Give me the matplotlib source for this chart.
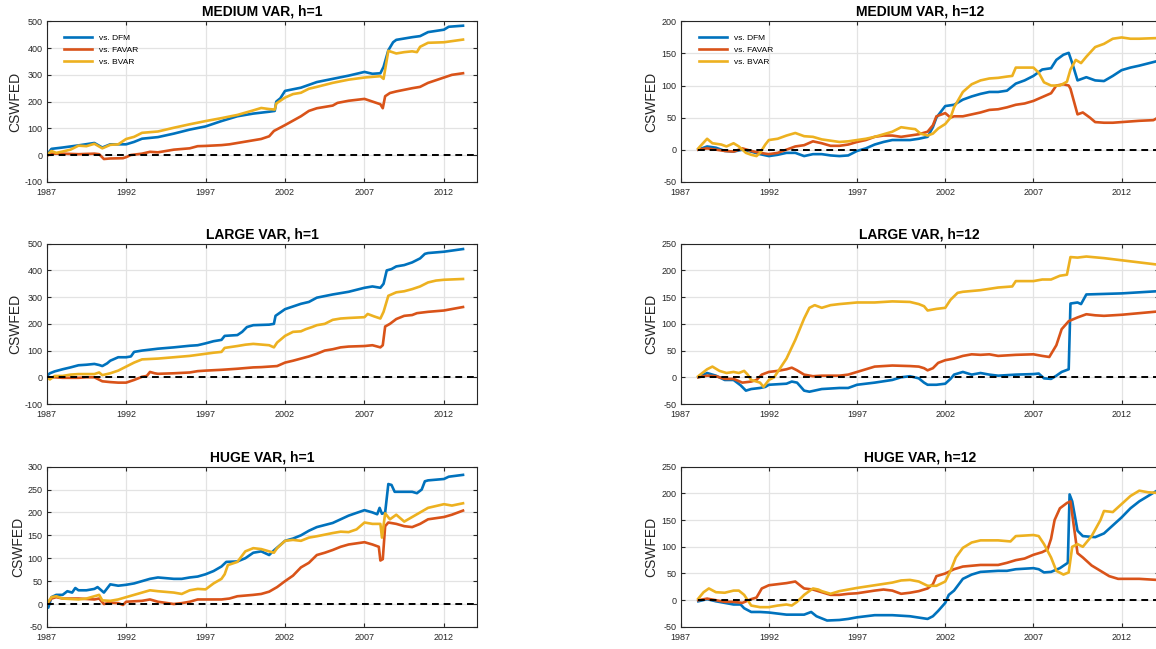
import matplotlib.pyplot as plt
import numpy as np

plt.rcParams["font.family"] = ["Liberation Sans", "DejaVu Sans"]
plt.rcParams["axes.unicode_minus"] = False

COLORS = ["#0072BD", "#D95319", "#EDB120"]
SERIES_NAMES = ["vs. DFM", "vs. FAVAR", "vs. BVAR"]
YEAR_TICKS = [1987, 1992, 1997, 2002, 2007, 2012]

# cumulative sum of squared forecast error differences, (year, value) pairs
MEDIUM_H1_DFM = [
    (1987.0, 0), (1987.3, 23), (1988.0, 28), (1989.0, 36), (1990.0, 45), (1990.5, 28),
    (1991.0, 40), (1992.0, 40), (1992.5, 49), (1993.0, 61), (1994.0, 67), (1995.0, 80),
    (1996.0, 95), (1997.0, 107), (1998.0, 127), (1999.0, 145), (2000.0, 155), (2001.0, 162),
    (2001.35, 165), (2001.45, 200), (2001.7, 212), (2002.0, 240), (2003.0, 252), (2004.0, 273),
    (2005.0, 285), (2006.0, 297), (2007.0, 311), (2007.5, 304), (2008.0, 306), (2008.2, 330),
    (2008.5, 392), (2008.8, 422), (2009.0, 431), (2010.0, 441), (2010.5, 445), (2011.0, 460),
    (2012.0, 469), (2012.3, 480), (2013.2, 484),
]
MEDIUM_H1_FAVAR = [
    (1987.0, -3), (1987.3, 5), (1988.0, 5), (1989.0, 3), (1990.0, 5), (1990.3, 3),
    (1990.6, -15), (1991.0, -13), (1991.8, -12), (1992.0, -8), (1992.3, 0), (1993.0, 5),
    (1993.5, 12), (1994.0, 10), (1994.5, 15), (1995.0, 20), (1996.0, 25), (1996.5, 33),
    (1997.0, 34), (1998.0, 37), (1998.5, 40), (1999.0, 45), (2000.0, 55), (2000.5, 60),
    (2001.0, 70), (2001.3, 90), (2002.0, 112), (2003.0, 145), (2003.5, 165), (2004.0, 175),
    (2005.0, 185), (2005.3, 195), (2006.0, 203), (2007.0, 210), (2007.5, 200), (2008.0, 190),
    (2008.15, 175), (2008.3, 220), (2008.6, 232), (2009.0, 238), (2010.0, 250), (2010.5, 255),
    (2011.0, 270), (2011.5, 280), (2012.0, 290), (2012.5, 300), (2013.2, 306),
]
MEDIUM_H1_BVAR = [
    (1987.0, 0), (1987.3, 15), (1987.6, 8), (1988.0, 13), (1988.5, 20), (1989.0, 35),
    (1989.5, 33), (1990.0, 42), (1990.5, 25), (1991.0, 38), (1991.5, 40), (1992.0, 60),
    (1992.5, 68), (1993.0, 83), (1994.0, 88), (1995.0, 102), (1996.0, 115), (1997.0, 127),
    (1998.0, 138), (1999.0, 150), (2000.0, 167), (2000.5, 176), (2001.0, 172), (2001.35, 170),
    (2001.45, 193), (2002.0, 215), (2002.5, 228), (2003.0, 233), (2003.5, 248), (2004.0, 255),
    (2005.0, 270), (2006.0, 282), (2007.0, 290), (2008.0, 295), (2008.2, 285), (2008.5, 390),
    (2009.0, 380), (2009.5, 385), (2010.0, 388), (2010.3, 385), (2010.5, 405), (2011.0, 420),
    (2012.0, 422), (2013.2, 432),
]

MEDIUM_H12_DFM = [
    (1988.0, 0), (1988.5, 5), (1989.0, 3), (1989.5, -2), (1990.0, -3), (1990.5, 0),
    (1991.0, -3), (1991.5, -7), (1992.0, -10), (1992.5, -8), (1993.0, -5), (1993.5, -5),
    (1994.0, -10), (1994.5, -7), (1995.0, -7), (1995.5, -9), (1996.0, -10), (1996.5, -9),
    (1997.0, -2), (1997.5, 2), (1998.0, 8), (1998.5, 12), (1999.0, 15), (2000.0, 15),
    (2000.5, 17), (2001.0, 20), (2001.3, 35), (2001.5, 50), (2002.0, 68), (2002.5, 70),
    (2003.0, 78), (2003.5, 83), (2004.0, 87), (2004.5, 90), (2005.0, 90), (2005.5, 92),
    (2006.0, 103), (2006.5, 108), (2007.0, 115), (2007.5, 125), (2008.0, 127), (2008.3, 140),
    (2008.7, 148), (2009.0, 151), (2009.2, 135), (2009.5, 108), (2010.0, 113), (2010.5, 108),
    (2011.0, 107), (2011.5, 115), (2012.0, 124), (2012.5, 128), (2013.0, 131), (2014.0, 138),
]
MEDIUM_H12_FAVAR = [
    (1988.0, 0), (1988.5, 2), (1989.0, 0), (1989.5, -2), (1990.0, -3), (1990.5, 2),
    (1991.0, -2), (1991.5, -5), (1992.0, -7), (1992.5, -5), (1993.0, 0), (1993.5, 5),
    (1994.0, 7), (1994.5, 13), (1995.0, 10), (1995.5, 6), (1996.0, 6), (1996.5, 8),
    (1997.0, 12), (1997.5, 15), (1998.0, 20), (1998.5, 22), (1999.0, 22), (1999.5, 20),
    (2000.0, 22), (2000.5, 24), (2001.0, 28), (2001.3, 38), (2001.5, 52), (2002.0, 57),
    (2002.3, 50), (2002.5, 52), (2003.0, 52), (2003.5, 55), (2004.0, 58), (2004.5, 62),
    (2005.0, 63), (2005.5, 66), (2006.0, 70), (2006.5, 72), (2007.0, 76), (2007.5, 82),
    (2008.0, 88), (2008.3, 100), (2008.7, 102), (2009.0, 100), (2009.1, 95), (2009.5, 55),
    (2009.8, 58), (2010.2, 50), (2010.5, 43), (2011.0, 42), (2011.5, 42), (2012.0, 43),
    (2013.0, 45), (2013.8, 46), (2014.0, 49),
]
MEDIUM_H12_BVAR = [
    (1988.0, 2), (1988.5, 17), (1988.8, 10), (1989.3, 8), (1989.6, 5), (1990.0, 10),
    (1990.3, 5), (1990.7, -5), (1991.0, -8), (1991.3, -10), (1991.5, -5), (1991.8, 8),
    (1992.0, 15), (1992.5, 17), (1993.0, 22), (1993.5, 26), (1994.0, 21), (1994.5, 20),
    (1995.0, 16), (1995.5, 14), (1996.0, 12), (1996.5, 13), (1997.0, 15), (1997.5, 17),
    (1998.0, 20), (1998.5, 24), (1999.0, 28), (1999.5, 35), (2000.0, 33), (2000.3, 32),
    (2000.6, 25), (2001.0, 22), (2001.3, 25), (2001.6, 33), (2002.0, 40), (2002.3, 50),
    (2002.5, 66), (2003.0, 90), (2003.5, 102), (2004.0, 108), (2004.5, 111), (2005.0, 112),
    (2005.5, 114), (2005.8, 115), (2006.0, 128), (2007.0, 128), (2007.3, 120), (2007.6, 105),
    (2008.0, 100), (2008.5, 100), (2008.9, 106), (2009.1, 125), (2009.4, 140), (2009.7, 135),
    (2010.0, 145), (2010.5, 160), (2011.0, 165), (2011.5, 173), (2012.0, 175), (2012.5, 173),
    (2013.0, 173), (2014.0, 174),
]

LARGE_H1_DFM = [
    (1987.0, 5), (1987.2, 15), (1987.5, 22), (1988.0, 30), (1988.5, 37), (1989.0, 45),
    (1989.5, 47), (1990.0, 50), (1990.3, 46), (1990.5, 42), (1990.8, 52), (1991.0, 62),
    (1991.5, 75), (1992.0, 75), (1992.3, 78), (1992.5, 95), (1993.0, 100), (1994.0, 107),
    (1995.0, 112), (1996.0, 118), (1996.5, 120), (1997.0, 127), (1997.5, 135), (1998.0, 140),
    (1998.2, 155), (1999.0, 158), (1999.3, 170), (1999.6, 188), (2000.0, 195), (2001.0, 197),
    (2001.3, 200), (2001.4, 230), (2002.0, 255), (2002.5, 265), (2003.0, 275), (2003.5, 282),
    (2004.0, 298), (2005.0, 310), (2006.0, 320), (2007.0, 335), (2007.5, 340), (2008.0, 335),
    (2008.2, 350), (2008.4, 400), (2008.7, 405), (2009.0, 415), (2009.5, 420), (2010.0, 430),
    (2010.5, 445), (2010.8, 462), (2011.0, 465), (2012.0, 470), (2013.2, 480),
]
LARGE_H1_FAVAR = [
    (1987.0, 0), (1987.5, 0), (1988.0, -2), (1989.0, -2), (1989.5, 0), (1990.0, 0),
    (1990.5, -15), (1991.0, -18), (1991.5, -20), (1992.0, -20), (1992.5, -10), (1992.8, -3),
    (1993.0, 2), (1993.3, 5), (1993.5, 20), (1993.8, 15), (1994.0, 13), (1995.0, 15),
    (1996.0, 18), (1996.5, 23), (1997.0, 25), (1998.0, 28), (1998.5, 30), (1999.0, 32),
    (2000.0, 37), (2000.5, 38), (2001.0, 40), (2001.5, 42), (2002.0, 55), (2002.5, 62),
    (2003.0, 70), (2003.5, 78), (2004.0, 88), (2004.5, 100), (2005.0, 105), (2005.5, 112),
    (2006.0, 115), (2007.0, 117), (2007.5, 120), (2008.0, 112), (2008.15, 120), (2008.3, 190),
    (2008.6, 200), (2009.0, 218), (2009.5, 230), (2010.0, 233), (2010.3, 240), (2011.0, 245),
    (2012.0, 250), (2013.2, 263),
]
LARGE_H1_BVAR = [
    (1987.0, 0), (1987.2, -8), (1987.5, 5), (1988.0, 5), (1988.5, 10), (1989.0, 12),
    (1990.0, 12), (1990.3, 18), (1990.5, 8), (1991.0, 15), (1991.5, 25), (1992.0, 40),
    (1992.5, 55), (1993.0, 67), (1994.0, 70), (1995.0, 75), (1996.0, 80), (1997.0, 88),
    (1997.5, 92), (1998.0, 95), (1998.2, 110), (1999.0, 117), (1999.5, 122), (2000.0, 125),
    (2001.0, 120), (2001.3, 112), (2001.5, 130), (2002.0, 155), (2002.5, 170), (2003.0, 172),
    (2003.3, 180), (2003.7, 188), (2004.0, 195), (2004.5, 200), (2005.0, 215), (2005.5, 220),
    (2006.0, 222), (2007.0, 225), (2007.2, 237), (2007.6, 228), (2008.0, 220), (2008.2, 245),
    (2008.5, 305), (2009.0, 318), (2009.5, 322), (2010.0, 330), (2010.5, 340), (2011.0, 355),
    (2011.5, 362), (2012.0, 365), (2013.2, 368),
]

LARGE_H12_DFM = [
    (1988.0, 0), (1988.5, 8), (1989.0, 3), (1989.5, -5), (1990.0, -5), (1990.4, -15),
    (1990.7, -25), (1991.0, -22), (1991.5, -20), (1991.8, -18), (1992.0, -14), (1992.5, -13),
    (1993.0, -12), (1993.3, -8), (1993.6, -10), (1994.0, -25), (1994.3, -27), (1995.0, -22),
    (1996.0, -20), (1996.5, -20), (1997.0, -14), (1998.0, -10), (1999.0, -5), (1999.5, 0),
    (2000.0, 2), (2000.5, -2), (2000.8, -10), (2001.0, -14), (2001.5, -14), (2002.0, -12),
    (2002.3, -3), (2002.5, 5), (2003.0, 10), (2003.5, 5), (2004.0, 8), (2004.5, 5),
    (2005.0, 3), (2006.0, 5), (2007.0, 6), (2007.3, 7), (2007.6, -2), (2008.0, -3),
    (2008.3, 3), (2008.6, 10), (2009.0, 15), (2009.1, 138), (2009.5, 140), (2009.7, 137),
    (2010.0, 155), (2011.0, 156), (2012.0, 157), (2013.0, 159), (2014.0, 161),
]
LARGE_H12_FAVAR = [
    (1988.0, 0), (1988.5, 3), (1989.0, 2), (1989.5, -3), (1990.0, -3), (1990.5, -10),
    (1991.0, -8), (1991.3, -5), (1991.6, 5), (1992.0, 10), (1992.5, 12), (1993.0, 15),
    (1993.3, 18), (1993.6, 13), (1994.0, 5), (1994.5, 2), (1995.0, 3), (1996.0, 3),
    (1996.5, 5), (1997.0, 10), (1997.5, 15), (1998.0, 20), (1999.0, 22), (2000.0, 21),
    (2000.5, 20), (2000.8, 17), (2001.0, 13), (2001.3, 17), (2001.6, 27), (2002.0, 32),
    (2002.5, 35), (2003.0, 40), (2003.5, 43), (2004.0, 42), (2004.5, 43), (2005.0, 40),
    (2006.0, 42), (2007.0, 43), (2007.5, 40), (2007.9, 38), (2008.3, 60), (2008.6, 90),
    (2009.0, 105), (2009.5, 112), (2010.0, 118), (2010.5, 116), (2011.0, 115), (2012.0, 117),
    (2013.0, 120), (2014.0, 123),
]
LARGE_H12_BVAR = [
    (1988.0, 2), (1988.5, 15), (1988.8, 20), (1989.2, 12), (1989.6, 8), (1990.0, 10),
    (1990.3, 8), (1990.6, 12), (1990.8, 5), (1991.0, -5), (1991.5, -10), (1991.7, -18),
    (1992.0, -5), (1992.3, 0), (1992.6, 15), (1993.0, 35), (1993.5, 70), (1994.0, 110),
    (1994.3, 130), (1994.6, 135), (1995.0, 130), (1995.5, 135), (1996.0, 137), (1997.0, 140),
    (1998.0, 140), (1999.0, 142), (2000.0, 141), (2000.5, 137), (2000.8, 133), (2001.0, 125),
    (2001.5, 128), (2002.0, 130), (2002.3, 145), (2002.7, 158), (2003.0, 160), (2004.0, 163),
    (2005.0, 168), (2005.8, 170), (2006.0, 180), (2007.0, 180), (2007.5, 183), (2008.0, 183),
    (2008.5, 190), (2008.9, 192), (2009.1, 225), (2009.5, 224), (2010.0, 226), (2011.0, 223),
    (2012.0, 219), (2013.0, 215), (2014.0, 211),
]

HUGE_H1_DFM = [
    (1987.0, 0), (1987.1, -8), (1987.3, 15), (1987.6, 20), (1988.0, 20), (1988.3, 28),
    (1988.6, 25), (1988.8, 35), (1989.0, 30), (1989.5, 30), (1990.0, 33), (1990.2, 37),
    (1990.6, 25), (1991.0, 43), (1991.5, 40), (1992.0, 42), (1992.5, 45), (1993.0, 50),
    (1993.5, 55), (1994.0, 58), (1995.0, 55), (1995.5, 55), (1996.0, 58), (1996.5, 60),
    (1997.0, 65), (1997.5, 72), (1998.0, 82), (1998.3, 92), (1999.0, 93), (1999.5, 100),
    (2000.0, 112), (2000.5, 115), (2001.0, 107), (2001.3, 117), (2002.0, 138), (2002.5, 143),
    (2003.0, 150), (2003.5, 160), (2004.0, 168), (2005.0, 177), (2005.5, 185), (2006.0, 193),
    (2007.0, 205), (2007.5, 200), (2007.8, 196), (2007.95, 210), (2008.1, 197), (2008.3, 200),
    (2008.5, 262), (2008.7, 260), (2008.9, 245), (2009.5, 245), (2010.0, 245), (2010.3, 242),
    (2010.6, 250), (2010.8, 268), (2011.0, 270), (2012.0, 273), (2012.3, 278), (2013.2, 282),
]
HUGE_H1_FAVAR = [
    (1987.0, 0), (1987.3, 12), (1987.6, 15), (1988.0, 12), (1989.0, 12), (1990.0, 10),
    (1990.3, 12), (1990.6, 0), (1991.0, 3), (1991.5, 2), (1991.8, -2), (1992.0, 5),
    (1993.0, 7), (1993.5, 10), (1994.0, 5), (1995.0, 0), (1995.5, 2), (1996.0, 5),
    (1996.5, 10), (1997.0, 10), (1998.0, 10), (1998.5, 12), (1999.0, 17), (2000.0, 20),
    (2000.5, 22), (2001.0, 27), (2001.5, 37), (2002.0, 50), (2002.5, 62), (2003.0, 80),
    (2003.5, 90), (2004.0, 107), (2004.5, 112), (2005.0, 118), (2005.5, 125), (2006.0, 130),
    (2007.0, 135), (2007.5, 130), (2007.9, 125), (2008.0, 95), (2008.15, 98), (2008.3, 170),
    (2008.5, 178), (2009.0, 175), (2009.5, 170), (2010.0, 168), (2010.5, 175), (2011.0, 185),
    (2012.0, 190), (2012.5, 195), (2013.2, 204),
]
HUGE_H1_BVAR = [
    (1987.0, 0), (1987.3, 15), (1987.6, 17), (1988.0, 12), (1989.0, 10), (1989.5, 12),
    (1990.0, 17), (1990.3, 20), (1990.5, 8), (1991.0, 7), (1991.5, 10), (1992.0, 15),
    (1992.5, 20), (1993.0, 25), (1993.5, 30), (1994.0, 28), (1995.0, 25), (1995.5, 22),
    (1996.0, 30), (1996.5, 33), (1997.0, 32), (1997.5, 45), (1998.0, 55), (1998.2, 65),
    (1998.4, 85), (1999.0, 92), (1999.5, 115), (2000.0, 122), (2000.5, 120), (2001.0, 115),
    (2001.3, 112), (2001.5, 122), (2002.0, 138), (2002.5, 140), (2003.0, 138), (2003.5, 145),
    (2004.0, 148), (2005.0, 155), (2005.5, 158), (2006.0, 157), (2006.5, 163), (2007.0, 178),
    (2007.5, 175), (2008.0, 175), (2008.1, 145), (2008.3, 198), (2008.6, 185), (2009.0, 195),
    (2009.5, 180), (2010.0, 190), (2010.5, 200), (2011.0, 210), (2012.0, 218), (2012.5, 215),
    (2013.2, 220),
]

HUGE_H12_DFM = [
    (1988.0, -2), (1988.5, 2), (1989.0, -2), (1989.5, -5), (1990.0, -8), (1990.4, -8),
    (1990.6, -15), (1991.0, -22), (1991.5, -22), (1992.0, -23), (1992.5, -25), (1993.0, -27),
    (1994.0, -27), (1994.4, -22), (1994.7, -30), (1995.3, -38), (1996.0, -37), (1996.5, -35),
    (1997.0, -32), (1998.0, -28), (1999.0, -28), (2000.0, -30), (2001.0, -35), (2001.3, -30),
    (2001.6, -20), (2002.0, -5), (2002.2, 10), (2002.5, 18), (2003.0, 40), (2003.5, 48),
    (2004.0, 53), (2005.0, 55), (2005.5, 55), (2006.0, 58), (2007.0, 60), (2007.3, 58),
    (2007.6, 52), (2008.0, 53), (2008.5, 60), (2008.95, 70), (2009.05, 198), (2009.2, 185),
    (2009.5, 130), (2009.8, 120), (2010.5, 118), (2011.0, 125), (2011.5, 140), (2012.0, 155),
    (2012.5, 172), (2013.0, 185), (2014.0, 205),
]
HUGE_H12_FAVAR = [
    (1988.0, 0), (1988.5, 3), (1989.0, 0), (1989.5, -3), (1990.0, -3), (1990.5, -5),
    (1991.0, 2), (1991.3, 5), (1991.6, 22), (1992.0, 28), (1992.5, 30), (1993.0, 32),
    (1993.5, 35), (1993.8, 27), (1994.0, 22), (1994.5, 20), (1995.0, 15), (1995.5, 10),
    (1996.0, 10), (1996.5, 12), (1997.0, 13), (1998.0, 18), (1998.5, 20), (1999.0, 18),
    (1999.5, 12), (2000.0, 14), (2000.5, 17), (2001.0, 22), (2001.3, 30), (2001.5, 45),
    (2002.0, 50), (2002.5, 58), (2003.0, 63), (2004.0, 66), (2005.0, 66), (2005.5, 70),
    (2006.0, 75), (2006.5, 78), (2007.0, 85), (2007.5, 90), (2007.8, 95), (2008.0, 115),
    (2008.2, 150), (2008.5, 172), (2008.9, 182), (2009.1, 185), (2009.5, 88), (2009.8, 80),
    (2010.3, 65), (2010.8, 55), (2011.3, 45), (2011.8, 40), (2013.0, 40), (2014.0, 38),
]
HUGE_H12_BVAR = [
    (1988.0, 3), (1988.3, 15), (1988.6, 22), (1989.0, 15), (1989.5, 14), (1990.0, 18),
    (1990.3, 18), (1990.6, 10), (1991.0, -10), (1991.5, -13), (1992.0, -13), (1992.5, -10),
    (1993.0, -8), (1993.3, -10), (1993.6, -3), (1994.0, 10), (1994.5, 22), (1994.8, 20),
    (1995.0, 17), (1995.5, 12), (1996.0, 17), (1997.0, 23), (1998.0, 28), (1999.0, 33),
    (1999.5, 37), (2000.0, 38), (2000.5, 35), (2001.0, 27), (2001.5, 27), (2002.0, 35),
    (2002.3, 55), (2002.6, 80), (2003.0, 98), (2003.5, 108), (2004.0, 112), (2005.0, 112),
    (2005.7, 110), (2006.0, 120), (2007.0, 122), (2007.3, 120), (2007.6, 105), (2008.0, 80),
    (2008.3, 55), (2008.7, 48), (2009.0, 52), (2009.2, 100), (2009.5, 105), (2009.8, 100),
    (2010.3, 120), (2010.8, 150), (2011.0, 167), (2011.5, 165), (2012.0, 180), (2012.5, 195),
    (2013.0, 205), (2013.5, 202), (2014.0, 201),
]

PANELS = [
    ("MEDIUM VAR, h=1", [MEDIUM_H1_DFM, MEDIUM_H1_FAVAR, MEDIUM_H1_BVAR], np.arange(-100, 501, 100)),
    ("MEDIUM VAR, h=12", [MEDIUM_H12_DFM, MEDIUM_H12_FAVAR, MEDIUM_H12_BVAR], np.arange(-50, 201, 50)),
    ("LARGE VAR, h=1", [LARGE_H1_DFM, LARGE_H1_FAVAR, LARGE_H1_BVAR], np.arange(-100, 501, 100)),
    ("LARGE VAR, h=12", [LARGE_H12_DFM, LARGE_H12_FAVAR, LARGE_H12_BVAR], np.arange(-50, 251, 50)),
    ("HUGE VAR, h=1", [HUGE_H1_DFM, HUGE_H1_FAVAR, HUGE_H1_BVAR], np.arange(-50, 301, 50)),
    ("HUGE VAR, h=12", [HUGE_H12_DFM, HUGE_H12_FAVAR, HUGE_H12_BVAR], np.arange(-50, 251, 50)),
]

X_MAX = 2014.1
ROW_BOTTOMS = [0.720, 0.3775, 0.034]
ROW_HEIGHT = 0.247
COL_LEFTS = [0.0404, 0.5888]
COL_WIDTHS = [0.3725, 0.4135]

fig = plt.figure(figsize=(11.56, 6.49), dpi=100)

for i, (title, series, yticks) in enumerate(PANELS):
    row, col = divmod(i, 2)
    ax = fig.add_axes([COL_LEFTS[col], ROW_BOTTOMS[row], COL_WIDTHS[col], ROW_HEIGHT])

    for pts, color, name in zip(series, COLORS, SERIES_NAMES):
        years, vals = zip(*pts)
        ax.plot(years, vals, color=color, lw=1.9, label=name, solid_joinstyle="round")

    start = series[0][0][0]
    ax.plot([start, X_MAX], [0, 0], color="black", lw=1.4, dashes=(3.5, 2.5), zorder=5)

    ax.set_xlim(1987, X_MAX)
    ax.set_ylim(yticks[0], yticks[-1])
    ax.set_xticks(YEAR_TICKS)
    ax.set_yticks(yticks)
    ax.grid(True, color="#e3e3e3", lw=0.9)
    ax.set_axisbelow(True)
    ax.tick_params(direction="in", length=3, width=0.8, top=True, right=True,
                   labelsize=6.5, colors="#262626")
    ax.tick_params(axis="x", pad=4.5)
    ax.tick_params(axis="y", pad=3)
    for spine in ax.spines.values():
        spine.set_color("#262626")
        spine.set_linewidth(0.8)

    ax.set_title(title, fontsize=10, fontweight="bold", pad=4)
    ax.set_ylabel("CSWFED", fontsize=10, color="#262626", labelpad=2)

    if row == 0:
        ax.legend(loc="upper left", frameon=False, fontsize=6, handlelength=3.4,
                  labelspacing=0.45, borderaxespad=0.6, bbox_to_anchor=(0.02, 0.97))

fig.savefig("out.png", dpi=100)
